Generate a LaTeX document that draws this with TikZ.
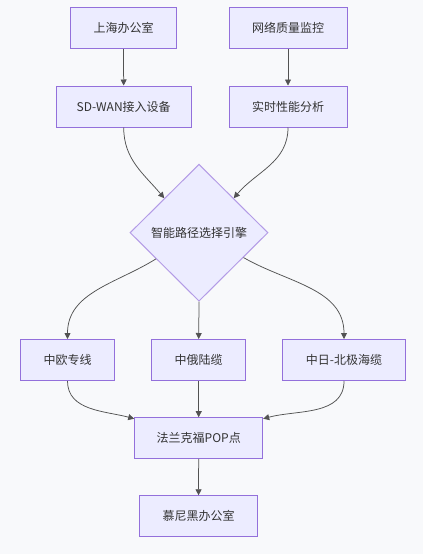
\documentclass[tikz,border=0pt]{standalone}
\usepackage{fontspec}
\setmainfont{Noto Sans CJK SC}
\usetikzlibrary{shapes.geometric,arrows.meta,calc}
\definecolor{bg}{HTML}{F8F9FB}
\definecolor{nodefill}{HTML}{ECECFF}
\definecolor{nodeline}{HTML}{9370DB}
\definecolor{edge}{HTML}{333333}
\begin{document}
\begin{tikzpicture}[x=1pt,y=-1pt,
  box/.style={draw=nodeline,fill=nodefill,line width=1pt,inner sep=0pt,minimum height=41pt,text=edge,font=\fontsize{12pt}{14pt}\selectfont},
  dia/.style={draw=nodeline!70,fill=nodefill,line width=1pt,diamond,aspect=1,inner sep=0pt,minimum width=138pt,minimum height=137pt,text=edge,font=\fontsize{12pt}{14pt}\selectfont},
  link/.style={draw=edge!85,line width=0.75pt,-{Triangle[length=6pt,width=6pt]}}]
\fill[bg] (0,0) rectangle (423,554);
\useasboundingbox (0,0) rectangle (423,554);
\node[box,minimum width=105.6pt] (sh) at (123.5,28) {上海办公室};
\node[box,minimum width=118pt] (mon) at (288,28) {网络质量监控};
\node[box,minimum width=135.3pt] (sd) at (123.7,106.5) {SD-WAN接入设备};
\node[box,minimum width=118pt] (rt) at (288,106.5) {实时性能分析};
\node[dia] (eng) at (199,232.7) {智能路径选择引擎};
\node[box,minimum width=94.4pt] (eu) at (67.5,360) {中欧专线};
\node[box,minimum width=94pt] (ru) at (198.7,360) {中俄陆缆};
\node[box,minimum width=122.6pt] (jp) at (344,360) {中日-北极海缆};
\node[box,minimum width=128pt,minimum height=40.6pt] (fra) at (198.7,438) {法兰克福POP点};
\node[box,minimum width=118.4pt] (mun) at (198.5,516.3) {慕尼黑办公室};
\draw[link] (sh) -- (sd);
\draw[link] (mon) -- (rt);
\draw[link] (sd.south) to[out=-90,in=130] (eng.north west);
\draw[link] (rt.south) to[out=-90,in=50] (eng.north east);
\draw[link] ($(eng.west)!0.38!(eng.south)$) to[out=212,in=90] (eu.north);
\draw[link] (eng.south) -- (ru.north);
\draw[link] ($(eng.east)!0.36!(eng.south)$) to[out=-30,in=90] (jp.north);
\draw[link] (eu.south) to[out=-90,in=165] ([yshift=-1.5pt]fra.north west);
\draw[link] (ru.south) -- (fra.north);
\draw[link] (jp.south) to[out=-90,in=15] ([yshift=-1.5pt]fra.north east);
\draw[link] (fra) -- (mun);
\end{tikzpicture}
\end{document}
